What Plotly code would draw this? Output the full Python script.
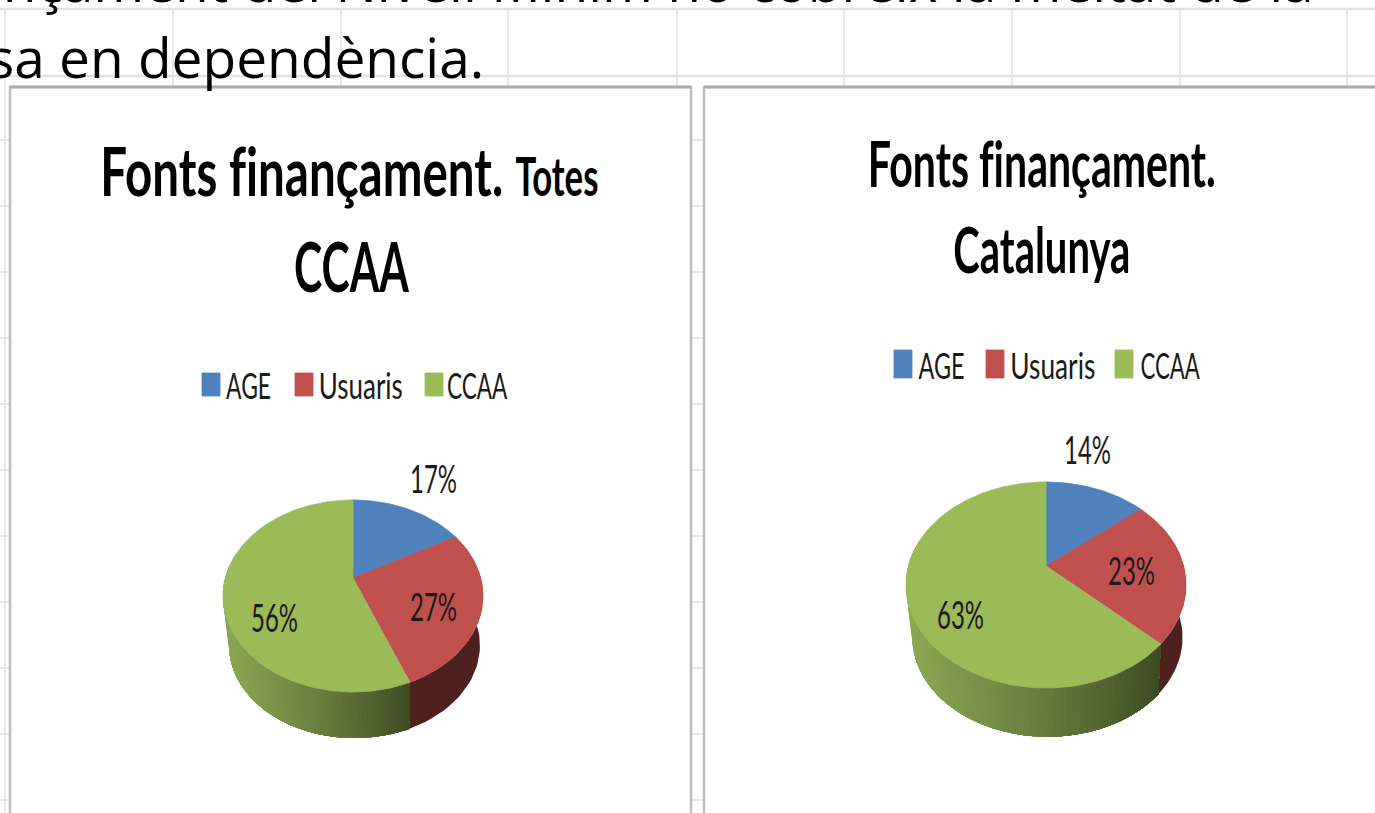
import json
import math
import plotly.graph_objects as go

# ---------- data ----------
categories = ["AGE", "Usuaris", "CCAA"]
values_totes = [17, 27, 56]
values_catalunya = [14, 23, 63]
labels_totes = ["17%", "27%", "56%"]
labels_catalunya = ["14%", "23%", "63%"]
colors = ["#4F81BD", "#C0504D", "#9BBB59"]
body_lines = ["finançament del Nivell Mínim no cobreix la meitat de la", "sa en dependència."]

# ---------- geometry / style ----------
W, H = 1375, 813
FONT = "Lato"
side_dark_red = "#4E201E"
green_side_light = (140, 168, 84)
green_side_dark = (58, 72, 33)

pies = [
    dict(vals=values_totes, labels=labels_totes, cx=353, cy=578, up=78, down=114, rx=130, depth=50,
         lab=[(433, 477.5), (433, 605), (274, 616.5)]),
    dict(vals=values_catalunya, labels=labels_catalunya, cx=1046, cy=566, up=84, down=122, rx=140, depth=53,
         lab=[(1087, 448.5), (1131, 569), (960, 613.5)]),
]


def projector(p, shrink=1.0, dy=0.0, dx=0.0):
    """Perspective view of the pie's circle: fraction of the total -> page position."""
    b = (p["down"] - p["up"]) / (p["down"] + p["up"])
    A = p["up"] * (1 + b)
    B = p["rx"] * math.sqrt(1 - b * b)

    def f(frac):
        a = 2 * math.pi * frac
        u, v = math.sin(a), math.cos(a)
        w = 1 + b * v
        return p["cx"] + dx + shrink * B * u / w, p["cy"] + dy - shrink * A * v / w

    return f


fig = go.Figure()


def poly(xs, ys, color, name=None, width=0.8):
    fig.add_trace(go.Scatter(x=xs, y=ys, mode="lines", fill="toself", fillcolor=color,
                             line=dict(color=color, width=width), hoverinfo="skip" if name is None else "name",
                             name=name or "", showlegend=False))


def mix(c0, c1, t):
    t = max(0, min(1, t))
    return "rgb(%d,%d,%d)" % tuple(round(a + (b - a) * t) for a, b in zip(c0, c1))


for p in pies:
    total = sum(p["vals"])
    top = projector(p)
    bot = projector(p, 0.965, p["depth"], 1.5)
    cum = [0]
    for v in p["vals"]:
        cum.append(cum[-1] + v / total)
    split = cum[2]
    x_left = p["cx"] - p["rx"]
    x_split = top(split)[0]

    def wall(fr, col):
        pts_t = [top(x) for x in fr]
        pts_b = [bot(x) for x in reversed(fr)]
        xs = [q[0] for q in pts_t + pts_b]
        ys = [q[1] for q in pts_t + pts_b]
        poly(xs + xs[:1], ys + ys[:1], col, width=0)

    # red part of the wall
    fr0 = 0.18
    m = 40
    wall([fr0 + (split - fr0) * j / m for j in range(m + 1)], side_dark_red)
    # green part: overlapping facets painted from the far left towards the split
    end = 0.80
    n = 70
    for i in range(n):
        f0 = end - (end - split) * i / n
        f1 = split  # every facet reaches the split, so later ones paint over
        steps = max(2, int(40 * (f0 - f1) / (end - split)))
        fr = [f1 + (f0 - f1) * j / steps for j in range(steps + 1)]
        xc = top(f0)[0]
        t = (x_split - xc) / (x_split - x_left)
        wall(fr, mix(green_side_dark, green_side_light, t ** 0.85))
    # top face
    for k in range(len(p["vals"])):
        steps = max(8, int(300 * (cum[k + 1] - cum[k])))
        fr = [cum[k] + (cum[k + 1] - cum[k]) * j / steps for j in range(steps + 1)]
        pts = [top(x) for x in fr]
        xs = [p["cx"]] + [q[0] for q in pts] + [p["cx"]]
        ys = [p["cy"]] + [q[1] for q in pts] + [p["cy"]]
        poly(xs, ys, colors[k], categories[k])

# ---------- sheet gridlines and chart panels ----------
grid_x = [5, 173, 341, 508, 677, 844, 1012, 1180, 1347]
grid_y = [9, 76, 140, 206, 272, 338, 404, 470, 536, 602, 668, 734, 800]
shapes = []
for gx in grid_x:
    shapes.append(dict(type="line", x0=gx, x1=gx, y0=9, y1=H, line=dict(color="#E2E2E2", width=1.5), layer="below"))
for gy in grid_y:
    shapes.append(dict(type="line", x0=0, x1=W, y0=gy, y1=gy,
                       line=dict(color="#E2E2E2", width=2.5 if gy in (9, 76) else 1.5), layer="below"))
for x0, x1 in [(10, 691), (704, W + 40)]:
    shapes.append(dict(type="rect", x0=x0, x1=x1, y0=87, y1=H + 40, fillcolor="white",
                       line=dict(color="#BDBDBD", width=2.5), layer="below"))
    shapes.append(dict(type="line", x0=x0, x1=x1, y0=87, y1=87, line=dict(color="#ABABAB", width=3), layer="below"))

# ---------- text ----------
ann = []
fit = []


def text(x, y, s, size, bold=False, family=FONT, color="#000000", width=None, cap=None,
         xanchor="center", yref="y"):
    ann.append(dict(x=x, y=y, xref="x", yref=yref, text=("<b>%s</b>" % s) if bold else s, showarrow=False,
                    font=dict(family=family, size=size, color=color), xanchor=xanchor, yanchor="middle",
                    borderpad=0, align="center"))
    fit.append([width, cap] if width else None)


legend_layout = [
    dict(sq=[202, 295, 425], txt=[(226, 271), (319, 403), (447, 508)], y0=373, y1=396, ty=384),
    dict(sq=[894, 986, 1115], txt=[(918, 964), (1010, 1095), (1140, 1200)], y0=350, y1=378, ty=364),
]
for lay in legend_layout:
    for name, c, sx, (t0, t1) in zip(categories, colors, lay["sq"], lay["txt"]):
        poly([sx, sx + 18, sx + 18, sx, sx], [lay["y0"], lay["y0"], lay["y1"], lay["y1"], lay["y0"]], c)
        text((t0 + t1) / 2, lay["ty"], name, 24, color="#1A1A1A", width=t1 - t0, cap=27)

for p in pies:
    for s, (lx, ly) in zip(p["labels"], p["lab"]):
        text(lx, ly, s, 24, color="#1A1A1A", width=47, cap=28)

# titles
text(301.5, 171, "Fonts finançament.", 50, bold=True, width=403, cap=48)
text(556.5, 176, "Totes", 36, bold=True, width=83, cap=38)
text(351, 266, "CCAA", 50, bold=True, width=115, cap=49)
text(1042, 163, "Fonts finançament.", 46, bold=True, width=348, cap=45)
text(1041.5, 249, "Catalunya", 46, bold=True, width=177, cap=45)

# body text running above the charts (cropped by the page)
text(1315, 1 + 19.5 / H, body_lines[0], 55, family="Open Sans", xanchor="right", yref="paper")
text(485, 56, body_lines[1], 55, family="Open Sans", xanchor="right")

fig.update_layout(
    width=W, height=H, margin=dict(l=0, r=0, t=0, b=0),
    paper_bgcolor="white", plot_bgcolor="white", showlegend=False,
    xaxis=dict(range=[0, W], visible=False, fixedrange=True),
    yaxis=dict(range=[H, 0], visible=False, fixedrange=True),
    shapes=shapes, annotations=ann,
)

post = """
document.body.style.margin = '0';
document.body.style.overflow = 'hidden';
var FIT = %s;
document.querySelectorAll('g.annotation').forEach(function (g) {
  var f = FIT[+g.getAttribute('data-index')];
  var t = g.querySelector('.annotation-text');
  if (!f || !t) return;
  t.style.fontVariantLigatures = 'none';
  var b = t.getBBox();
  var fs = parseFloat(t.style.fontSize);
  var sx = f[0] / b.width, sy = f[1] / (0.72 * fs);
  t.style.transformBox = 'fill-box';
  t.style.transformOrigin = 'center';
  t.style.transform = 'scale(' + sx + ',' + sy + ')';
});
""" % json.dumps(fit)
fig.write_html("out.html", post_script=post, config=dict(displayModeBar=False))
